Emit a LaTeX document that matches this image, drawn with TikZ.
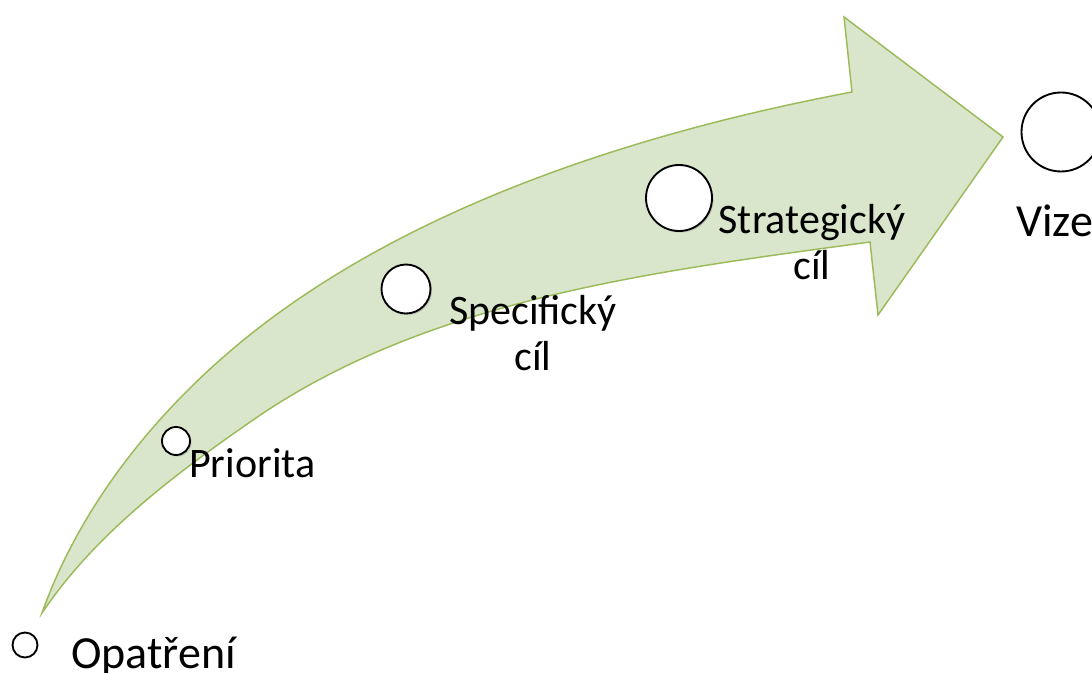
\documentclass[tikz,border=0pt]{standalone}
\usepackage{fontspec}
\setmainfont{Carlito}
\usetikzlibrary{shadows}
\definecolor{ArrowGreen}{RGB}{155,187,89}
\definecolor{ArrowFill}{RGB}{218,230,204}

\begin{document}
\begin{tikzpicture}[x=0.75pt,y=-0.75pt,
    stage/.style={circle,draw=black,fill=white,line width=1.4pt,inner sep=0pt},
    soft/.style={drop shadow={shadow xshift=1.2pt,shadow yshift=-1.2pt,opacity=0.3}},
    biglabel/.style={font=\fontsize{34.5}{41}\selectfont,inner sep=0pt,anchor=base west},
    midlabel/.style={font=\fontsize{31.5}{34.5}\selectfont,inner sep=0pt,align=center,anchor=base}
  ]
  \useasboundingbox (0,0) rectangle (1092,673);
  % curved arrow
  \draw[draw=ArrowGreen,fill=ArrowFill,line width=1.1pt,line join=miter]
    (42,613) .. controls (85,492) and (176,387) .. (280,312)
    .. controls (442,195) and (656,129) .. (852,92)
    -- (844,17) -- (1003,137) -- (878,315) -- (870,242)
    .. controls (658,271) and (429,298) .. (253,420)
    .. controls (175,474) and (95,534) .. (42,613) -- cycle;
  % stages
  \node[stage,minimum size=18.75pt] (opatreni) at (25,645) {};
  \node[stage,soft,minimum size=21pt] (priorita) at (176,441) {};
  \node[stage,soft,minimum size=36.75pt] (specificky) at (406,289) {};
  \node[stage,soft,minimum size=49.5pt] (strategicky) at (679,198) {};
  \node[stage,minimum size=59.25pt] (vize) at (1061,132) {};
  % labels (base = last line)
  \node[biglabel] (opatreniText) at (71,668) {Opatření};
  \node[midlabel,anchor=base west] (prioritaText) at (189,477) {Priorita};
  \node[midlabel] (specifickyText) at (533,371) {Specifický\\cíl};
  \node[midlabel] (strategickyText) at (812,280) {Strategický\\cíl};
  \node[biglabel] (vizeText) at (1016,237) {Vize};
\end{tikzpicture}
\end{document}
